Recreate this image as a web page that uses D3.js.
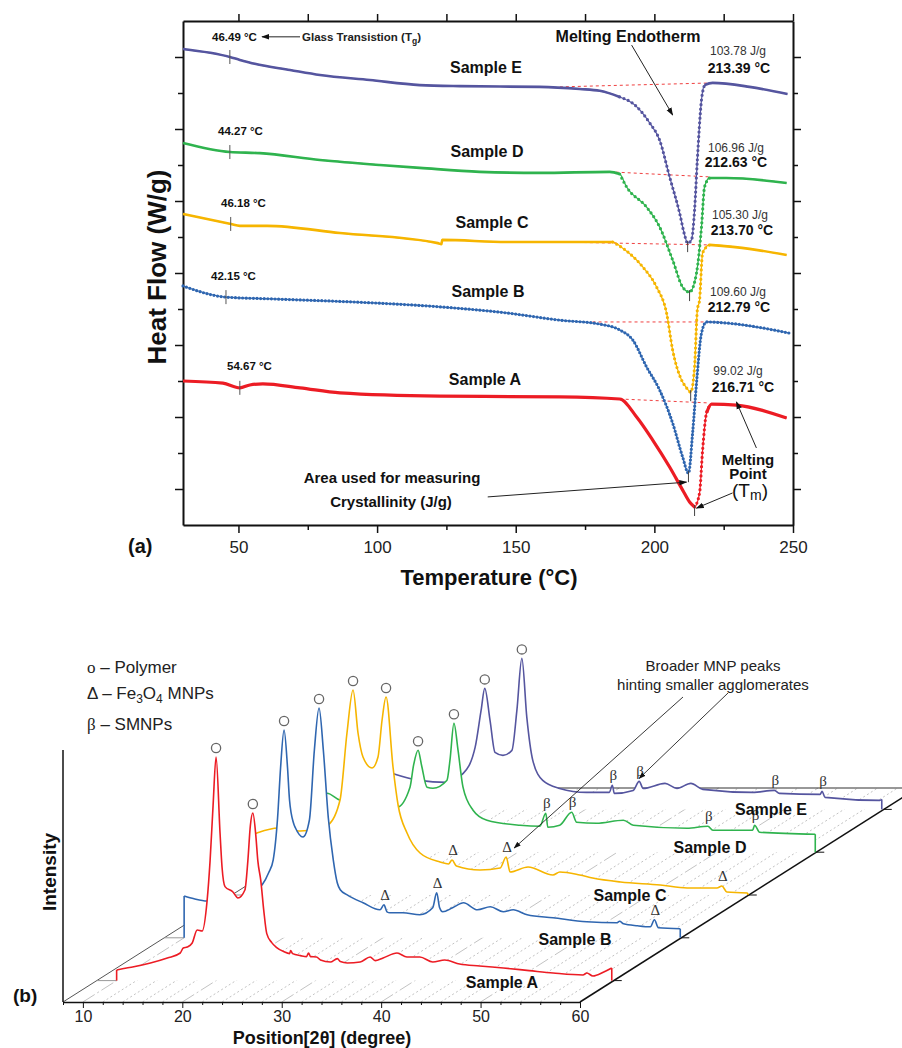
<!DOCTYPE html>
<html lang="en">
<head>
<meta charset="UTF-8">
<title>DSC thermograms and XRD patterns</title>
<style>
  body { margin: 0; background: #fff; }
  text { font-family: "Liberation Sans", Arial, sans-serif; }
  .serif { font-family: "Liberation Serif", "Times New Roman", serif; }
</style>
</head>
<body>
<svg id="chart" width="902" height="1048"></svg>
<script src="https://cdn.jsdelivr.net/npm/d3@7/dist/d3.min.js"></script>
<script>
// ---------- (a) DSC thermograms: [temperature °C, heat flow W/g (stacked)] ----------
const dscNames = ["Sample A", "Sample B", "Sample C", "Sample D", "Sample E"];
const dscA = [[30,4.0],[44.4,3.94],[50.5,3.81],[54.1,3.89],[58.8,3.92],[72.2,3.81],[86.6,3.67],[122.6,3.58],[165.9,3.56],[187.5,3.5],[193.6,3.0],[199.4,2.36],[205.5,1.61],[210.2,0.97],[212.7,0.64],[214.5,0.5],[216.3,0.89],[217.4,2.08],[218.8,3.11],[220.6,3.36],[229.6,3.33],[247.7,2.97]];
const dscB = [[30,6.64],[45.5,6.33],[62.4,6.28],[98.5,6.17],[122.6,6.06],[146.8,5.89],[165.9,5.69],[180.3,5.58],[187.5,5.42],[192.2,5.14],[197.2,4.39],[201.9,3.75],[206.6,2.83],[210.2,1.89],[212.3,1.44],[213.8,2.56],[215.2,3.94],[217.0,5.33],[218.8,5.64],[226.0,5.61],[248.7,5.33]];
const dscC = [[30,8.64],[47.3,8.36],[50.5,8.31],[60.3,8.31],[86.6,8.11],[121.9,7.83],[123.2,7.8],[123.5,7.92],[146.8,7.86],[165.9,7.86],[185.0,7.86],[188.6,7.69],[195.8,7.17],[200.8,6.61],[204.4,5.89],[206.6,4.86],[209.8,4.03],[211.6,3.81],[213.1,3.69],[214.5,4.39],[215.5,5.97],[216.3,6.25],[217.4,7.56],[219.9,7.78],[234.3,7.67],[247.7,7.5]];
const dscD = [[30,10.61],[46.9,10.36],[57.7,10.33],[79.4,10.14],[101.0,10.0],[115.4,9.92],[137.0,9.81],[158.6,9.78],[183.9,9.81],[187.5,9.75],[190.0,9.39],[197.2,8.83],[201.9,8.28],[206.6,7.36],[210.2,6.61],[212.7,6.47],[215.2,7.0],[217.0,8.28],[218.1,9.39],[219.9,9.64],[226.0,9.64],[247.7,9.5]];
const dscE = [[30,13.22],[46.9,13.0],[50.5,12.92],[55.9,12.81],[68.6,12.64],[79.4,12.5],[97.4,12.36],[115.4,12.22],[129.8,12.19],[158.6,12.17],[173.1,12.11],[180.3,12.06],[187.5,11.89],[192.9,11.67],[198.3,11.17],[201.9,10.69],[205.5,9.67],[209.1,8.67],[210.9,8.06],[212.0,7.83],[213.4,7.92],[214.5,8.75],[215.5,10.14],[217.0,11.81],[218.1,12.22],[221.0,12.28],[234.3,12.17],[248.0,11.97]];
const dscSeries = [dscA, dscB, dscC, dscD, dscE];
const tgMarkT = [50.5, 45.5, 47.2, 46.9, 46.9];
const tgLabels = ["54.67 °C", "42.15 °C", "46.18 °C", "44.27 °C", "46.49 °C"];
const enthalpy = ["99.02 J/g", "109.60 J/g", "105.30 J/g", "106.96 J/g", "103.78 J/g"];
const meltPeak = ["216.71 °C", "212.79 °C", "213.70 °C", "212.63 °C", "213.39 °C"];
const baseFrom = [[187.5,3.5],[177.7,5.64],[165.9,7.86],[183.9,9.81],[165.9,12.17]];
const baseTo = [[219.9,3.39],[223.5,5.64],[219.9,7.78],[219.9,9.67],[221.0,12.28]];
const tempTicks = [50, 100, 150, 200, 250];
const tempMinor = [75, 125, 175, 225];

// ---------- (b) XRD patterns: [2θ degree, intensity a.u.] ----------
const xrdA = [[10.0,10.6],[11.0,12.6],[11.6,13.6],[13.4,17.6],[15.1,22.6],[16.4,27.6],[16.7,32.6],[17.1,33.6],[17.6,37.6],[18.1,50.6],[18.6,49.6],[19.1,80],[19.4,120],[19.7,175],[20.0,223.6],[20.4,147.6],[20.6,113.6],[20.9,94],[21.7,88.6],[22.2,82.6],[22.9,90.6],[23.2,120],[23.45,155],[23.7,167.6],[24.0,145],[24.2,120],[24.5,100],[24.8,70],[25.1,47],[25.6,38],[26.1,33],[26.8,29],[27.4,27],[27.5,30],[27.7,27],[28.5,25],[29.1,24],[29.3,27.6],[29.5,24],[30.1,23.6],[30.5,20.6],[31.5,18.6],[32.2,22],[32.5,19],[33.2,17.6],[34.5,18.6],[35.5,23.6],[36.0,20],[36.8,22.6],[38.2,27.6],[39.2,23.6],[40.5,23.6],[41.8,18.6],[43.0,20.6],[44.5,16.6],[46.5,14.6],[48.9,12.6],[51.5,10],[53.9,7.6],[56.9,5.6],[57.3,7.6],[57.9,4.6],[59.0,8.6],[59.8,12.6]];
const xrdB = [[10.0,41.8],[11.0,39],[12.3,36.8],[13.5,37],[15.3,39],[16.5,44],[17.85,53],[18.5,65],[18.96,78],[19.4,120],[19.7,170],[20.05,207.8],[20.4,170],[20.6,137.8],[21.0,114.8],[21.2,109.8],[21.95,100.8],[22.6,117.8],[23.1,187.8],[23.57,229.8],[24.0,187.8],[24.5,120],[25.0,78],[25.4,55],[25.7,48],[26.4,43],[28.0,35],[29.7,28],[30.1,33],[30.4,26],[30.7,25],[32.0,25],[33.7,23],[35.0,30],[35.4,45],[35.7,30],[36.0,26],[37.0,30],[38.1,35],[39.5,28],[40.8,31],[42.1,26],[43.1,28],[44.5,23],[47.1,20],[50.5,16],[53.5,15],[53.8,16.5],[54.2,14],[55.6,12],[56.9,11],[57.3,18],[57.7,10],[59.9,9]];
const xrdC = [[10.0,60],[10.54,62],[12.65,67],[14.87,64],[16.5,66],[17.68,70],[18.89,95],[19.59,162],[20.2,205],[20.7,162],[21.2,138],[22.11,127],[22.71,138],[23.12,175],[23.52,198],[24.22,128],[24.73,90],[25.63,62],[26.94,42],[28.95,33],[29.8,31],[30.16,35],[30.6,29],[32.97,25],[35.0,27],[35.6,38],[36.0,23],[37.8,28],[40.3,20],[41.0,23],[43.0,20],[44.3,17],[47.1,13],[51.1,10],[53.8,7],[56.8,7],[57.3,9],[57.8,3],[59.9,2]];
const xrdD = [[10.0,57],[10.79,59],[12.1,52],[14.1,49],[17.83,45],[19.14,65],[19.5,87],[19.95,102],[20.3,87],[20.85,65],[21.45,64],[22.86,72],[23.16,92],[23.56,129],[23.97,102],[24.47,65],[25.48,42],[26.88,32],[30.2,27],[32.2,26],[32.8,39],[33.0,25],[34.2,27],[35.4,40],[35.9,30],[37.9,29],[40.6,32],[41.6,27],[47.0,24],[49.1,26],[49.6,22],[53.6,22],[53.8,27],[54.3,20],[59.9,18]];
const xrdE = [[10.0,38],[10.6,36],[13.3,29],[16.0,27],[17.7,36],[18.9,62],[19.5,99],[19.87,121],[20.4,89],[20.9,57],[21.7,54],[22.6,59],[23.1,99],[23.6,151],[24.1,92],[24.7,49],[25.7,29],[27.4,21],[30.1,17],[32.4,17],[32.7,24],[32.9,16],[34.8,19],[35.4,28],[35.8,21],[38.0,26],[39.2,21],[40.6,26],[41.8,20],[46.8,17],[49.0,19],[49.5,16],[53.6,15],[53.8,18],[54.1,12],[59.6,9],[59.8,10]];
const xrdSeries = [xrdA, xrdB, xrdC, xrdD, xrdE];
const polymerPeaks = [[20.0,23.7],[20.05,23.57],[20.2,23.52],[19.95,23.56],[19.87,23.6]];
const fe3o4Marks = [[1,30.1],[1,35.4],[1,57.3],[2,30.16],[2,35.6],[2,57.3]];
const smnpMarks = [[3,32.8],[3,35.4],[3,49.1],[3,53.8],[4,32.7],[4,35.4],[4,49.0],[4,53.8]];
const posTicks = [10, 20, 30, 40, 50, 60];

const colors = ["#ec1c24", "#2f66b0", "#f6b500", "#2fb34e", "#55559f"];

const svg = d3.select("#chart");
svg.append("rect").attr("width", 902).attr("height", 1048).attr("fill", "#fff");
svg.append("defs").append("marker").attr("id", "head")
  .attr("viewBox", "0 0 10 10").attr("refX", 9).attr("refY", 5)
  .attr("markerWidth", 8).attr("markerHeight", 8).attr("orient", "auto")
  .append("path").attr("d", "M0,1.5L10,5L0,8.5z").attr("fill", "#111");

function txt(g, x, y, s, size, opt) {
  opt = opt || {};
  return g.append("text").attr("x", x).attr("y", y).text(s)
    .attr("font-size", size).attr("font-weight", opt.bold ? "bold" : null)
    .attr("text-anchor", opt.anchor || "start").attr("fill", opt.fill || "#111");
}
function styleAxis(g) {
  g.select(".domain").attr("stroke", "#111").attr("stroke-width", 2);
  g.selectAll(".tick line").attr("stroke", "#111").attr("stroke-width", 1.5);
  g.selectAll("text").attr("font-family", "Liberation Sans, Arial, sans-serif").attr("fill", "#222");
}
function valueAt(s, t) {
  const i = d3.bisector(d => d[0]).left(s, t);
  if (i <= 0) return s[0][1];
  if (i >= s.length) return s[s.length - 1][1];
  const a = s[i - 1], b = s[i];
  return a[1] + (b[1] - a[1]) * (t - a[0]) / (b[0] - a[0]);
}

// ===================== panel (a) =====================
const pa = svg.append("g");
const xT = d3.scaleLinear().domain([30, 250]).range([183, 793]);
const yH = d3.scaleLinear().domain([0, 14]).range([525, 21]);
const oddV = d3.range(1, 14, 2), evenV = d3.range(2, 13, 2);

pa.append("g").attr("transform", "translate(0,525)")
  .call(d3.axisBottom(xT).tickValues(tempTicks).tickSize(8).tickSizeOuter(0).tickPadding(8))
  .call(styleAxis).call(g => g.selectAll("text").attr("font-size", 17));
pa.append("g").attr("transform", "translate(0,525)")
  .call(d3.axisBottom(xT).tickValues(tempMinor).tickSize(5).tickFormat(""))
  .call(styleAxis).call(g => g.select(".domain").remove());
pa.append("g").attr("transform", "translate(0,21)")
  .call(d3.axisTop(xT).tickValues(tempTicks.concat(tempMinor)).tickSize(7).tickSizeOuter(0).tickFormat(""))
  .call(styleAxis);
[["left", 183, d3.axisLeft], ["right", 793, d3.axisRight]].forEach(([, x0, ax]) => {
  pa.append("g").attr("transform", `translate(${x0},0)`)
    .call(ax(yH).tickValues(oddV).tickSize(8).tickSizeOuter(0).tickFormat("")).call(styleAxis);
  pa.append("g").attr("transform", `translate(${x0},0)`)
    .call(ax(yH).tickValues(evenV).tickSize(5).tickFormat("")).call(styleAxis)
    .call(g => g.select(".domain").remove());
});

const dscLine = d3.line().x(d => xT(d[0])).y(d => yH(d[1])).curve(d3.curveMonotoneX);
const dscStyle = [
  { thick: 3.2, melt: [214.5, 218.8], dots: [214.5, 221] },
  { thick: 1.2, melt: [250, 0], dots: [30, 250], gap: 3.6 },
  { thick: 2.6, melt: [185.0, 219.9], dots: [185, 220] },
  { thick: 2.6, melt: [187.5, 219.9], dots: [187, 220] },
  { thick: 2.6, melt: [187.5, 218.1], dots: [186, 219] }
];

dscSeries.forEach((s, i) => {
  const c = colors[i], st = dscStyle[i];
  pa.append("path").attr("d", d3.line()([baseFrom[i], baseTo[i]].map(d => [xT(d[0]), yH(d[1])])))
    .attr("fill", "none").attr("stroke", "#f04040").attr("stroke-width", 1).attr("stroke-dasharray", "3 3");
  pa.append("path").attr("d", dscLine(s)).attr("fill", "none").attr("stroke", c).attr("stroke-width", 1.2);
  if (i !== 1) {
    pa.append("path").attr("d", dscLine(s.filter(d => d[0] <= st.melt[0])))
      .attr("fill", "none").attr("stroke", c).attr("stroke-width", st.thick).attr("stroke-linejoin", "round");
    pa.append("path").attr("d", dscLine(s.filter(d => d[0] >= st.melt[1])))
      .attr("fill", "none").attr("stroke", c).attr("stroke-width", st.thick).attr("stroke-linejoin", "round");
  }
  pa.append("path").attr("d", dscLine(s.filter(d => d[0] >= st.dots[0] && d[0] <= st.dots[1])))
    .attr("fill", "none").attr("stroke", c).attr("stroke-width", 3.2)
    .attr("stroke-linecap", "round").attr("stroke-dasharray", `0 ${st.gap || 4.6}`);
  // Tg marker
  const tx = xT(tgMarkT[i]), ty = yH(valueAt(s, tgMarkT[i]));
  pa.append("line").attr("x1", tx).attr("x2", tx).attr("y1", ty - 7).attr("y2", ty + 7)
    .attr("stroke", "#555").attr("stroke-width", 1);
  // melting point marker
  const mn = d3.least(s, d => d[1]);
  pa.append("line").attr("x1", xT(mn[0])).attr("x2", xT(mn[0])).attr("y1", yH(mn[1]) - 2).attr("y2", yH(mn[1]) + 9)
    .attr("stroke", "#444").attr("stroke-width", 1);
});

// labels panel (a)
const dscLayout = [
  { tg: [227, 370], name: [485, 385], enth: [738, 375], peak: [743, 392] },
  { tg: [211, 280], name: [488, 297], enth: [738, 296], peak: [739, 312] },
  { tg: [221, 207], name: [492, 228], enth: [740, 219], peak: [742, 235] },
  { tg: [218, 135], name: [487, 157], enth: [736, 152], peak: [736, 167] },
  { tg: [212, 41], name: [486, 73], enth: [738, 55], peak: [739, 73] }
];
dscLayout.forEach((L, i) => {
  txt(pa, L.tg[0], L.tg[1], tgLabels[i], 11.5, { bold: true });
  txt(pa, L.name[0], L.name[1], dscNames[i], 16, { bold: true, anchor: "middle" });
  txt(pa, L.enth[0], L.enth[1], enthalpy[i], 12, { anchor: "middle", fill: "#333" });
  txt(pa, L.peak[0], L.peak[1], meltPeak[i], 14, { bold: true, anchor: "middle" });
});
const gt = txt(pa, 302, 41, "Glass Transistion (T", 11.5, { bold: true, fill: "#222" });
gt.append("tspan").attr("font-size", 8.5).attr("dy", 3).text("g");
gt.append("tspan").attr("dy", -3).text(")");
txt(pa, 628, 42, "Melting Endotherm", 16, { bold: true, anchor: "middle" });
txt(pa, 748, 465, "Melting", 15, { bold: true, anchor: "middle" });
txt(pa, 748, 479, "Point", 15, { bold: true, anchor: "middle" });
const tm = txt(pa, 750, 497, "(T", 19, { anchor: "middle" });
tm.append("tspan").attr("font-size", 14).attr("dy", 3).text("m");
tm.append("tspan").attr("dy", -3).text(")");
txt(pa, 392, 483, "Area used for measuring", 15, { bold: true, anchor: "middle" });
txt(pa, 391, 507, "Crystallinity (J/g)", 15, { bold: true, anchor: "middle" });

const dscArrows = [
  [[72.2, 13.56], [58.5, 13.56]],
  [[191.8, 13.33], [206.6, 11.39]],
  [[236.8, 2.14], [229.6, 3.42]],
  [[228.2, 0.89], [215.2, 0.47]],
  [[139.9, 0.78], [211.6, 1.19]]
];
dscArrows.forEach(a => {
  pa.append("path").attr("d", d3.line()(a.map(d => [xT(d[0]), yH(d[1])])))
    .attr("stroke", "#222").attr("stroke-width", 1).attr("fill", "none").attr("marker-end", "url(#head)");
});

txt(pa, 128, 553, "(a)", 20, { bold: true });
txt(pa, 489, 585, "Temperature (°C)", 22, { bold: true, anchor: "middle" });
txt(pa, 0, 0, "Heat Flow (W/g)", 26, { bold: true, anchor: "middle" })
  .attr("transform", "translate(166,267) rotate(-90)");

// ===================== panel (b) =====================
const pb = svg.append("g");
const xP = d3.scaleLinear().domain([8, 60]).range([63, 580]);
const zX = d3.scaleLinear().domain([0, 5]).range([0, 337.5]);
const zY = d3.scaleLinear().domain([0, 5]).range([1002, 788]);
const yI = d3.scaleLinear().domain([0, 252]).range([0, 252]);
const proj = (z, tt, v) => [xP(tt) + zX(z), zY(z) - yI(v)];
const seg = (g, a, b) => g.append("path").attr("d", d3.line()([a, b])).attr("fill", "none");

// floor grid
d3.range(10, 60, 2).forEach(t => {
  seg(pb, proj(0, t, 0), proj(5, t, 0)).attr("stroke", "#bbb").attr("stroke-width", 0.9)
    .attr("stroke-dasharray", t % 10 === 0 ? "14 3 2 3" : "2 2.5");
});
seg(pb, proj(0, 8, 0), proj(5, 8, 0)).attr("stroke", "#555").attr("stroke-width", 1);
seg(pb, proj(0, 60, 0), proj(5, 60, 0)).attr("stroke", "#111").attr("stroke-width", 1.5);
seg(pb, proj(5, 8, 0), proj(5, 60, 0)).attr("stroke", "#333").attr("stroke-width", 1.2);
seg(pb, proj(0, 8, 0), proj(0, 8, yI.domain()[1])).attr("stroke", "#111").attr("stroke-width", 1.5);

pb.append("g").attr("transform", "translate(0,1002)")
  .call(d3.axisBottom(xP).tickValues(posTicks).tickSize(6).tickSizeOuter(0).tickPadding(3))
  .call(styleAxis).call(g => g.select(".domain").attr("stroke-width", 1.6))
  .call(g => g.selectAll(".tick line").attr("stroke-width", 1))
  .call(g => g.selectAll("text").attr("font-size", 16));
pb.append("g").attr("transform", "translate(0,1002)")
  .call(d3.axisBottom(xP).tickValues(d3.range(8, 61, 2).filter(t => t % 10 !== 0)).tickSize(3).tickFormat(""))
  .call(styleAxis).call(g => g.select(".domain").remove())
  .call(g => g.selectAll(".tick line").attr("stroke-width", 1));

// depth ticks on right edge
xrdSeries.forEach((s, k) => {
  const p = proj(k + 0.5, 60, 0);
  seg(pb, p, [p[0] + 8, p[1]]).attr("stroke", "#111").attr("stroke-width", 1);
});

// curves from back to front with hidden-line fill
for (let k = xrdSeries.length - 1; k >= 0; k--) {
  const s = xrdSeries[k], z = k + 0.5, c = colors[k];
  const ln = d3.line().x(d => proj(z, d[0], d[1])[0]).y(d => proj(z, d[0], d[1])[1]).curve(d3.curveMonotoneX);
  const f = s[0], l = s[s.length - 1];
  const pl = proj(z, l[0], 0), pf = proj(z, f[0], 0);
  pb.append("path").attr("d", ln(s) + `L${pl[0]},${pl[1]}L${pf[0]},${pf[1]}Z`).attr("fill", "#fff");
  seg(pb, proj(z, 8, 0), pf).attr("stroke", "#999").attr("stroke-width", 1);
  seg(pb, pf, proj(z, f[0], f[1])).attr("stroke", c).attr("stroke-width", 1.6);
  seg(pb, pl, proj(z, l[0], l[1])).attr("stroke", c).attr("stroke-width", 1.6);
  pb.append("path").attr("d", ln(s)).attr("fill", "none").attr("stroke", c)
    .attr("stroke-width", 1.6).attr("stroke-linejoin", "round");
}

// peak markers
const nearest = (s, t) => d3.least(s, d => Math.abs(d[0] - t));
polymerPeaks.forEach((pp, k) => pp.forEach(t => {
  const d = nearest(xrdSeries[k], t), p = proj(k + 0.5, d[0], d[1]);
  pb.append("circle").attr("cx", p[0]).attr("cy", p[1] - 9).attr("r", 4.6)
    .attr("fill", "#fff").attr("stroke", "#666").attr("stroke-width", 1.3);
}));
function mark(list, sym) {
  list.forEach(([k, t]) => {
    const d = nearest(xrdSeries[k], t), p = proj(k + 0.5, d[0], d[1]);
    txt(pb, p[0] + 1, p[1] - 5, sym, 15, { anchor: "middle", fill: "#333" }).attr("class", "serif");
  });
}
mark(fe3o4Marks, "Δ");
mark(smnpMarks, "β");

// annotation arrows to broadened peaks
[[[2, 35.6], [683, 697], [8, -9]], [[4, 35.4], [728, 693], [0, -3]]].forEach(([[k, t], from, off]) => {
  const d = nearest(xrdSeries[k], t), p = proj(k + 0.5, d[0], d[1]);
  pb.append("path").attr("d", d3.line()([from, [p[0] + off[0], p[1] + off[1]]]))
    .attr("stroke", "#222").attr("stroke-width", 0.9).attr("fill", "none").attr("marker-end", "url(#head)");
});
txt(pb, 713, 671, "Broader MNP peaks", 15, { anchor: "middle", fill: "#222" });
txt(pb, 713, 690, "hinting smaller agglomerates", 15, { anchor: "middle", fill: "#222" });

// sample names
[[502, 988], [575, 945], [630, 901], [710, 853], [771, 815]].forEach((p, k) => {
  txt(pb, p[0], p[1], dscNames[k], 16, { bold: true, anchor: "middle" });
});

// legend
const l1 = txt(pb, 87, 673, "", 17, { fill: "#222" });
l1.append("tspan").attr("class", "serif").text("o");
l1.append("tspan").text(" – Polymer");
const l2 = txt(pb, 87, 699, "Δ – Fe", 17, { fill: "#222" });
l2.append("tspan").attr("font-size", 12).attr("dy", 4).text("3");
l2.append("tspan").attr("dy", -4).text("O");
l2.append("tspan").attr("font-size", 12).attr("dy", 4).text("4");
l2.append("tspan").attr("dy", -4).text(" MNPs");
const l3 = txt(pb, 87, 730, "", 17, { fill: "#222" });
l3.append("tspan").attr("class", "serif").text("β");
l3.append("tspan").text(" – SMNPs");

txt(pb, 13, 1002, "(b)", 19, { bold: true });
txt(pb, 322, 1044, "Position[2θ] (degree)", 18, { bold: true, anchor: "middle" });
txt(pb, 0, 0, "Intensity", 19, { bold: true, anchor: "middle" })
  .attr("transform", "translate(56,872) rotate(-90)");
</script>
</body>
</html>
